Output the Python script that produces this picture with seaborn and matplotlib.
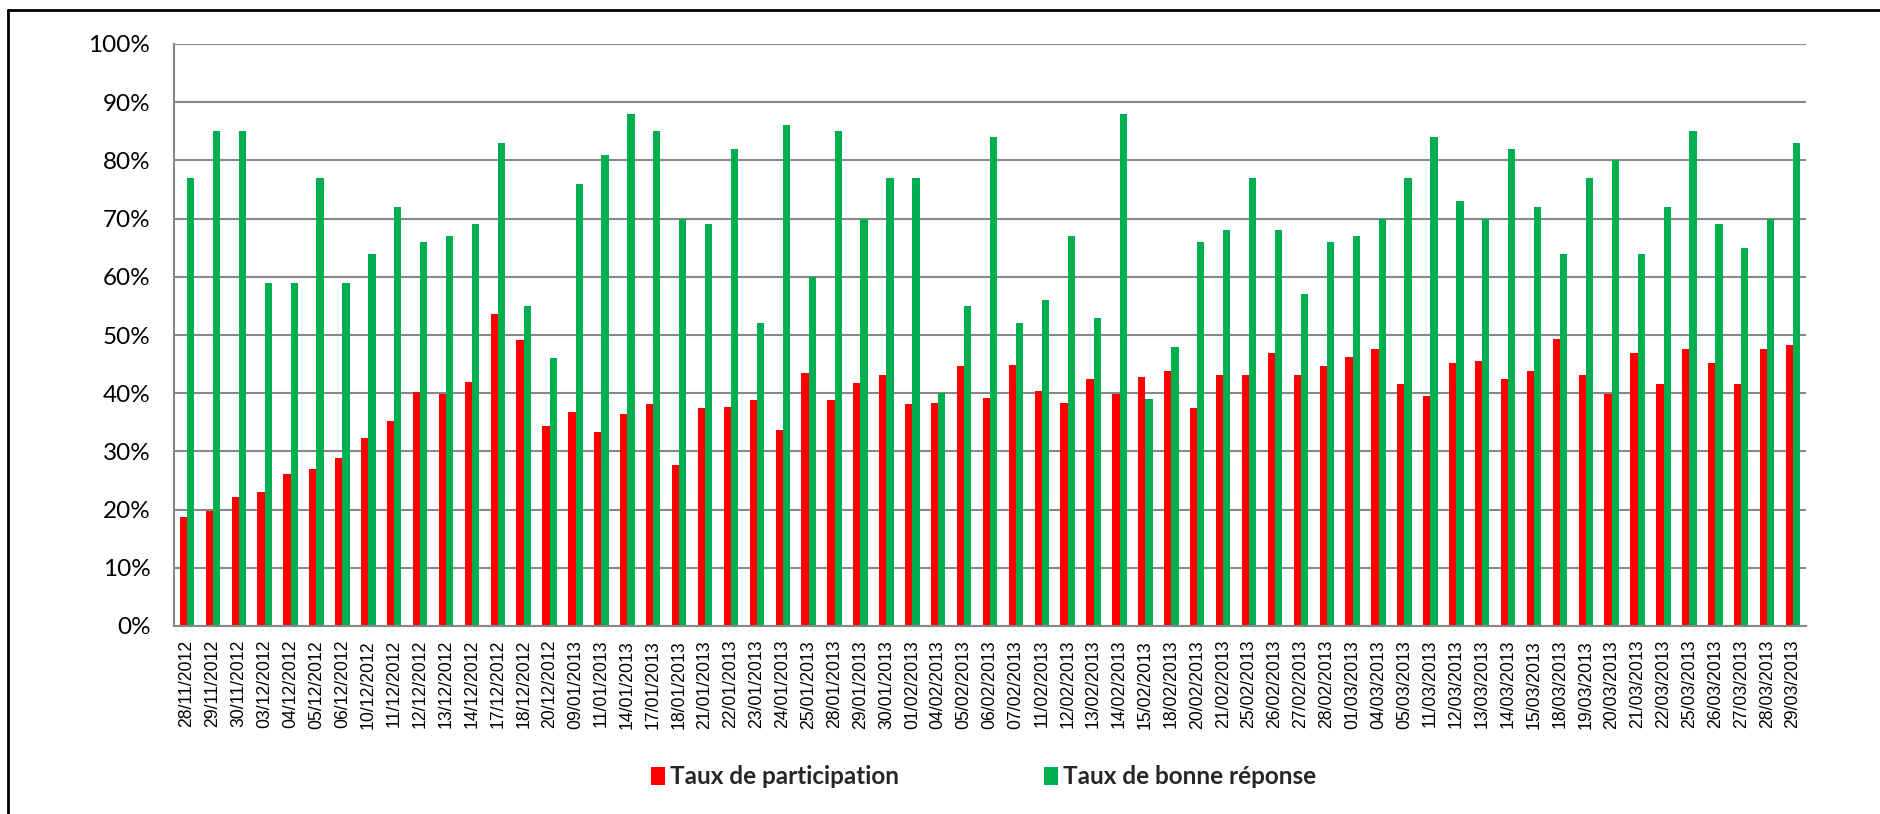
import matplotlib
matplotlib.use("Agg")
import matplotlib.pyplot as plt
from matplotlib.lines import Line2D
from matplotlib.ticker import PercentFormatter, FixedLocator
import seaborn as sns
import pandas as pd
import numpy as np

# --- data -------------------------------------------------------------
dates = [
    "28/11/2012", "29/11/2012", "30/11/2012", "03/12/2012", "04/12/2012",
    "05/12/2012", "06/12/2012", "10/12/2012", "11/12/2012", "12/12/2012",
    "13/12/2012", "14/12/2012", "17/12/2012", "18/12/2012", "20/12/2012",
    "09/01/2013", "11/01/2013", "14/01/2013", "17/01/2013", "18/01/2013",
    "21/01/2013", "22/01/2013", "23/01/2013", "24/01/2013", "25/01/2013",
    "28/01/2013", "29/01/2013", "30/01/2013", "01/02/2013", "04/02/2013",
    "05/02/2013", "06/02/2013", "07/02/2013", "11/02/2013", "12/02/2013",
    "13/02/2013", "14/02/2013", "15/02/2013", "18/02/2013", "20/02/2013",
    "21/02/2013", "25/02/2013", "26/02/2013", "27/02/2013", "28/02/2013",
    "01/03/2013", "04/03/2013", "05/03/2013", "11/03/2013", "12/03/2013",
    "13/03/2013", "14/03/2013", "15/03/2013", "18/03/2013", "19/03/2013",
    "20/03/2013", "21/03/2013", "22/03/2013", "25/03/2013", "26/03/2013",
    "27/03/2013", "28/03/2013", "29/03/2013",
]

taux_participation = [
    18.7, 19.8, 22.2, 23.1, 26.2, 26.9, 28.9, 32.3, 35.3, 40.2,
    39.8, 41.9, 53.6, 49.2, 34.4, 36.7, 33.3, 36.4, 38.1, 27.6,
    37.4, 37.7, 38.8, 33.7, 43.5, 38.8, 41.8, 43.2, 38.1, 38.4,
    44.6, 39.1, 44.9, 40.4, 38.4, 42.5, 39.8, 42.8, 43.9, 37.4,
    43.2, 43.2, 46.9, 43.2, 44.6, 46.2, 47.6, 41.5, 39.5, 45.2,
    45.5, 42.5, 43.9, 49.3, 43.2, 39.8, 46.9, 41.5, 47.6, 45.2,
    41.5, 47.6, 48.2,
]

taux_bonne_reponse = [
    77, 85, 85, 59, 59, 77, 59, 64, 72, 66,
    67, 69, 83, 55, 46, 76, 81, 88, 85, 70,
    69, 82, 52, 86, 60, 85, 70, 77, 77, 40,
    55, 84, 52, 56, 67, 53, 88, 39, 48, 66,
    68, 77, 68, 57, 66, 67, 70, 77, 84, 73,
    70, 82, 72, 64, 77, 80, 64, 72, 85, 69,
    65, 70, 83,
]

series_names = ["Taux de participation", "Taux de bonne réponse"]
series_colors = ["#FF0000", "#00B050"]
y_ticks = list(range(0, 101, 10))

# --- fonts --------------------------------------------------------------
from matplotlib import font_manager
available = {f.name for f in font_manager.fontManager.ttflist}


def pick(*names):
    for n in names:
        if n in available:
            return n
    return "DejaVu Sans"


body_font = pick("Lato", "Open Sans", "DejaVu Sans")
tick_font = pick("Liberation Sans", "Arial", "DejaVu Sans")

# --- figure -----------------------------------------------------------
sns.set_theme(style="white")
plt.rcParams["font.family"] = [body_font, "DejaVu Sans"]

W, H = 1880, 814
fig = plt.figure(figsize=(W / 100, H / 100), dpi=100)
fig.patch.set_facecolor("white")

left_px, right_px, top_px, bottom_px = 174, 1806, 44, 626
ax = fig.add_axes([left_px / W, 1 - bottom_px / H,
                   (right_px - left_px) / W, (bottom_px - top_px) / H])

df = pd.DataFrame({
    "date": dates * 2,
    "serie": [series_names[0]] * len(dates) + [series_names[1]] * len(dates),
    "valeur": taux_participation + taux_bonne_reponse,
})

sns.barplot(data=df, x="date", y="valeur", hue="serie", order=dates,
            hue_order=series_names, palette=series_colors, width=0.56,
            gap=0, linewidth=0, saturation=1, ax=ax, legend=True,
            errorbar=None)

grid_gray = "#878787"
ax.set_ylim(0, 100)
ax.set_xlim(-0.5, len(dates) - 0.5)
ax.set_yticks(y_ticks)
ax.yaxis.set_major_formatter(PercentFormatter(100, decimals=0))
ax.grid(axis="y", color=grid_gray, linewidth=1.5, zorder=0)
ax.set_axisbelow(True)

for side in ["top", "right"]:
    ax.spines[side].set_visible(False)
for side in ["left", "bottom"]:
    ax.spines[side].set_color(grid_gray)
    ax.spines[side].set_linewidth(1.5)

ax.set_xlabel("")
ax.set_ylabel("")

# y ticks: short outward marks
ax.tick_params(axis="y", which="major", direction="out", length=5,
               width=1.5, color=grid_gray, pad=12, labelsize=17.5,
               labelcolor="black")
for lbl in ax.get_yticklabels():
    lbl.set_fontfamily(body_font)

# x ticks: labels at centers, marks between categories
ax.set_xticks(range(len(dates)))
ax.set_xticklabels(dates, rotation=90, fontfamily=tick_font, fontsize=12.7,
                   color="black", va="top", ha="center")
ax.tick_params(axis="x", which="major", length=0, pad=10)
ax.xaxis.set_minor_locator(FixedLocator(np.arange(-0.5, len(dates), 1.0)))
ax.tick_params(axis="x", which="minor", direction="out", length=5,
               width=1.5, color=grid_gray)

# legend under the plot
handles, labels = ax.get_legend_handles_labels()
ax.legend(handles, labels, loc="center", bbox_to_anchor=(983.5 / W, 1 - 777 / H),
          bbox_transform=fig.transFigure, ncol=2, frameon=False,
          prop={"family": body_font, "weight": "bold", "size": 17.5},
          handlelength=0.55, handleheight=0.78, handletextpad=0.2,
          columnspacing=6.0, borderpad=0)

# outer frame (top and left edges)
fig.add_artist(Line2D([8 / W, 1], [1 - 10 / H, 1 - 10 / H], color="black",
                      linewidth=2, transform=fig.transFigure))
fig.add_artist(Line2D([8 / W, 8 / W], [0, 1 - 10 / H], color="black",
                      linewidth=2, transform=fig.transFigure))

fig.savefig("out.png", dpi=100, facecolor="white")
